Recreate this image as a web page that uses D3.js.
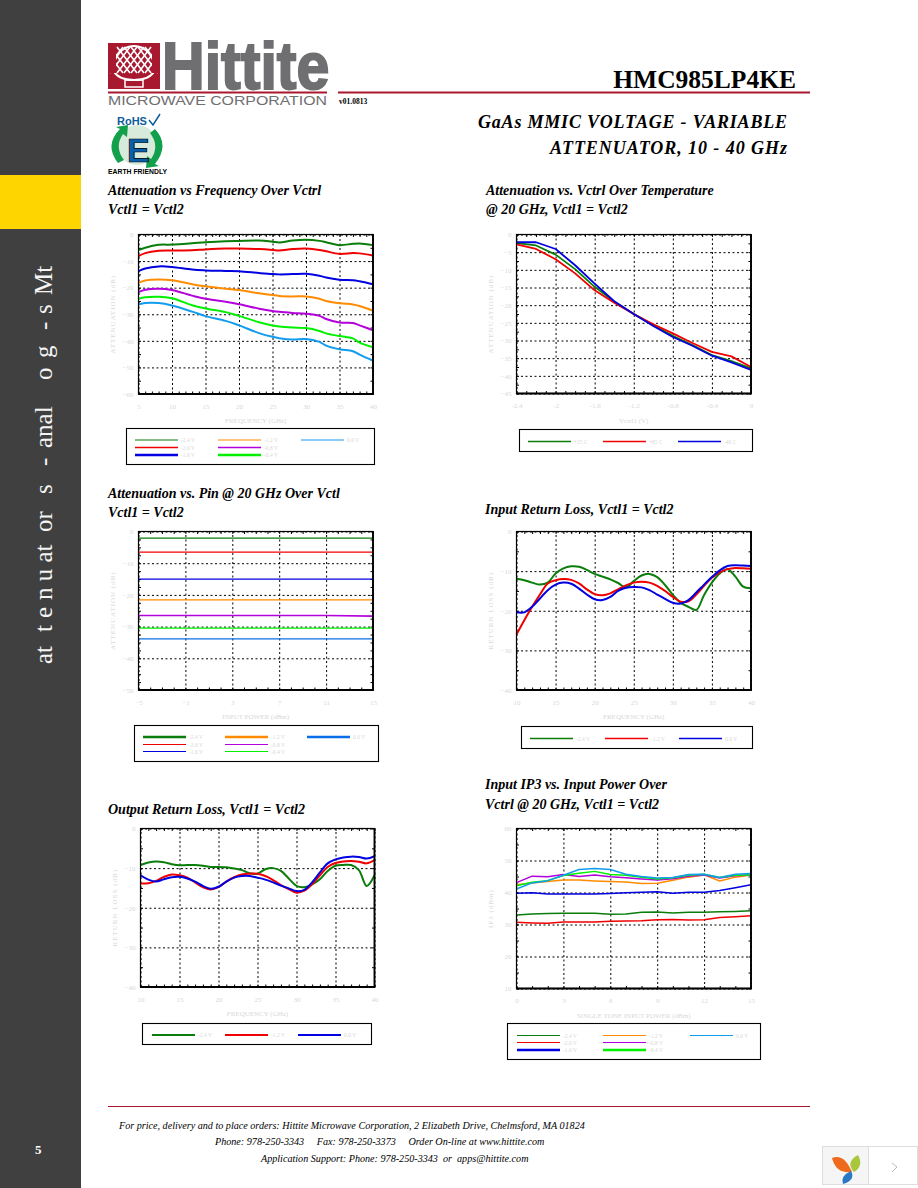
<!DOCTYPE html>
<html>
<head>
<meta charset="utf-8">
<script src="https://cdn.jsdelivr.net/npm/d3@7"></script>
<style>
  html, body { margin: 0; padding: 0; background: #fff; }
  svg { display: block; }
  text { font-family: "Liberation Serif", serif; }
</style>
</head>
<body>
<svg id="page" width="918" height="1188"></svg>
<script>
// values

var ctrlLabels = ["-2.4 V", "-2.0 V", "-1.6 V", "-1.2 V", "-0.8 V", "-0.4 V", "0.0 V"];
var tempLabels = ["+25 C", "+85 C", "-40 C"];
var rlLabels = ["-2.4 V", "-1.2 V", "0.0 V"];

// Attenuation vs Frequency
var attFreq = [5, 6, 8, 10, 13, 15, 18, 20, 23, 25, 26, 28, 30, 32, 33, 35, 37, 38, 40];
var attFreqM24 = [-5.9, -5.0, -3.9, -3.8, -3.3, -2.9, -2.5, -2.4, -2.3, -2.7, -3, -2.3, -2, -2.4, -2.9, -4, -3.5, -3.4, -4];
var attFreqM20 = [-8.1, -7, -6.1, -6, -5.9, -5.6, -5.3, -5.3, -5.5, -5.8, -6, -5.5, -5.3, -5.8, -6.3, -7.3, -7, -7.1, -7.9];
var attFreqM16 = [-13.8, -12.8, -12, -12.2, -13.2, -13.5, -13.7, -13.8, -14.5, -14.9, -15, -14.9, -14.8, -15.5, -16.2, -17, -17.2, -17.6, -18.7];
var attFreqM12 = [-18.2, -17.3, -16.9, -17.2, -18.7, -19.5, -20.4, -20.9, -22.1, -22.8, -23.1, -23.3, -23.3, -24.2, -25, -25.9, -26.3, -26.9, -28.7];
var attFreqM08 = [-21.7, -20.8, -20.4, -20.9, -23, -24.2, -25.3, -26.2, -27.9, -28.8, -29.1, -29.5, -29.8, -30.6, -31.8, -33.1, -33.3, -34.2, -36];
var attFreqM04 = [-24.2, -23.6, -23.4, -24, -26.6, -27.8, -29.2, -30.6, -33, -34.2, -34.6, -35, -35.2, -36.3, -37.2, -38.2, -39.1, -40.7, -42.4];
var attFreqM00 = [-26.3, -25.8, -25.8, -26.7, -29, -30.7, -32.5, -34.2, -37.1, -38.5, -39, -39.5, -39.3, -40.4, -41.8, -43.2, -43.9, -45.2, -47.5];

// Attenuation vs Vctrl over temperature
var vctrl = [-2.4, -2.2, -2, -1.8, -1.6, -1.4, -1.2, -1, -0.8, -0.6, -0.4, -0.2, 0];
var attTemp25 = [-2.45, -3.1, -5.7, -9.8, -14.8, -19, -22.5, -25.7, -28.7, -31.3, -34.1, -35.8, -37.9];
var attTemp85 = [-2.8, -4.1, -7, -11, -15.8, -19.3, -22.5, -25.4, -28, -30.7, -33.2, -34.5, -37.5];
var attTempM40 = [-2.2, -2.2, -4.1, -8.7, -13.9, -18.9, -22.5, -25.9, -29, -31.5, -34.3, -36.2, -38.3];

// Attenuation vs Pin
var pin = [-5, -1, 3, 7, 11, 15];
var attPinM24 = [-2.1, -2.1, -2.1, -2.1, -2.1, -2.1];
var attPinM20 = [-6.5, -6.5, -6.5, -6.5, -6.5, -6.5];
var attPinM16 = [-15, -15, -15, -15, -15, -15];
var attPinM12 = [-21.6, -21.6, -21.6, -21.6, -21.6, -21.6];
var attPinM08 = [-26.5, -26.5, -26.5, -26.5, -26.5, -26.7];
var attPinM04 = [-30.5, -30.5, -30.5, -30.5, -30.5, -30.5];
var attPinM00 = [-33.9, -33.9, -33.9, -33.9, -33.9, -33.9];

// Return loss, both ports share the frequency column
var rlFreq = d3.range(10, 41);
var irlM24 = [-11.9, -12.3, -12.9, -13.4, -12.9, -10.6, -9.3, -8.8, -8.9, -9.7, -10.7, -11.4, -12.1, -13, -14.1, -12.5, -11.1, -10.7, -11.5, -13.5, -16, -18, -19, -19.8, -16, -12.9, -10.6, -9.5, -11.4, -13.9, -14.3];
var irlM12 = [-26, -22.4, -19, -15.9, -13.1, -12.3, -12, -12.2, -13.1, -14.6, -15.8, -16.1, -15.6, -14.6, -13.6, -12.9, -12.7, -12.9, -13.7, -15, -16.5, -17.7, -17.6, -15.9, -13.7, -11.7, -10.3, -9.5, -9.2, -9.3, -9.4];
var irlM00 = [-20.4, -20.4, -19, -16.9, -14.8, -13.4, -12.9, -13.2, -14.4, -15.9, -17.1, -17.3, -16.5, -15, -14.2, -14, -14.1, -14.8, -15.9, -17, -18, -18.2, -17.3, -15.4, -13.4, -11.5, -9.8, -8.7, -8.5, -8.6, -8.7];
var orlM24 = [-9.2, -8.6, -8.3, -8.5, -9, -9.3, -9.2, -9.2, -9.4, -9.7, -9.7, -9.8, -10.1, -10.5, -11.3, -11.4, -10.3, -10, -10.7, -12.6, -14.5, -14.8, -14.1, -12.8, -10.7, -9.4, -9.2, -9.2, -10.5, -14.5, -11.8];
var orlM12 = [-13.9, -13.8, -13.2, -12.2, -11.6, -11.8, -12.4, -13.6, -14.8, -15.4, -14.8, -13.4, -12.3, -11.6, -11.4, -11.4, -12, -13, -14.3, -15.3, -16.2, -15.7, -14.1, -11.8, -9.7, -8.7, -8.3, -8.2, -8.4, -8.8, -8];
var orlM00 = [-11.8, -12.9, -13.4, -12.8, -12.3, -12.2, -12.6, -13.4, -14.5, -15.2, -14.7, -13.4, -12.4, -12, -12, -12.4, -12.9, -13.6, -14.4, -15.1, -15.8, -15.5, -13.6, -11.1, -8.8, -7.8, -7.3, -7.1, -7.2, -7.6, -7];

// Input IP3
var ipPower = d3.range(0, 16);
var ip3M24 = [33, 33.3, 33.4, 33.5, 33.5, 33.5, 33.2, 33.3, 33.8, 33.9, 33.6, 33.8, 33.8, 34, 34.1, 34.3];
var ip3M20 = [30.7, 30.5, 30.4, 30.8, 30.8, 30.8, 31, 31.1, 31.2, 31.5, 31.6, 31.4, 31.5, 32.2, 32.4, 32.7];
var ip3M16 = [39.8, 39.9, 39.5, 39.5, 39.5, 39.5, 39.7, 39.9, 40.1, 40.2, 39.8, 40.1, 40.1, 40.6, 41.5, 42.4];
var ip3M12 = [42.4, 43, 43.4, 43.9, 43.9, 43.6, 43.4, 43.3, 42.8, 42.9, 43.8, 44.8, 45.5, 43.6, 44.8, 45.5];
var ip3M08 = [43.1, 45.1, 44.9, 45.6, 45, 45.5, 44.9, 44.6, 44.2, 43.9, 44.3, 45.1, 45.5, 44.5, 45.2, 45.5];
var ip3M04 = [42.1, 43.2, 43.7, 45.3, 46, 46.6, 45.6, 45.4, 44.8, 44.2, 44.6, 45.4, 45.7, 44.7, 45.4, 45.5];
var ip3M00 = [41.1, 43, 43.7, 45.4, 47.2, 47.5, 47.2, 45.7, 45, 44.5, 44.7, 45.6, 45.7, 44.7, 45.7, 45.9];

var DKGREEN = "#0a7d0a", RED = "#f00000", BLUE = "#0000e0", ORANGE = "#ff8c00",
    PURPLE = "#b400dc", LIME = "#00f000", SKY = "#129ced", AZURE = "#0a6eea";
var FAINT = "#d8d8d8";
var CRIMSON = "#a8182f";

var svg = d3.select("#page");

// --------- page furniture ---------
svg.append("rect").attr("width", 81).attr("height", 1188).attr("fill", "#404040");
svg.append("rect").attr("y", 175).attr("width", 81).attr("height", 54).attr("fill", "#ffd500");

// side text is spaced in odd clumps on the original, so place each clump
var sideBits = [["at", 664], ["t", 632], ["e", 618], ["n u at", 600], ["or", 532], ["s", 494], ["-", 466], ["anal", 448], ["o", 380], ["g", 358], ["-", 330], ["s", 314], ["Mt", 295]];
sideBits.forEach(function(b) {
    svg.append("text")
      .attr("transform", "translate(52," + b[1] + ") rotate(-90)")
      .attr("fill", "#f4f4f4").style("font-size", "25px")
      .text(b[0]);
});
svg.append("text").attr("x", 35).attr("y", 1154).attr("fill", "#fff")
    .style("font-size", "13px").style("font-weight", "bold").text("5");

// logo
var logo = svg.append("g");
logo.append("rect").attr("x", 108).attr("y", 43).attr("width", 52).attr("height", 46).attr("fill", CRIMSON);
logo.append("path").attr("d", "M113,70 A21,24 0 1 1 155,70 Q150,80 134,80 Q118,80 113,70Z")
    .attr("fill", "none").attr("stroke", "#fff").attr("stroke-width", 2);
d3.range(-3, 4).forEach(function(i) {
    logo.append("line").attr("x1", 134 + i * 7 - 10).attr("y1", 47).attr("x2", 134 + i * 7 + 10).attr("y2", 73)
        .attr("stroke", "#fff").attr("stroke-width", 1.6);
    logo.append("line").attr("x1", 134 + i * 7 + 10).attr("y1", 47).attr("x2", 134 + i * 7 - 10).attr("y2", 73)
        .attr("stroke", "#fff").attr("stroke-width", 1.6);
});
logo.append("rect").attr("x", 108).attr("y", 43).attr("width", 8).attr("height", 30).attr("fill", CRIMSON);
logo.append("rect").attr("x", 152).attr("y", 43).attr("width", 8).attr("height", 30).attr("fill", CRIMSON);
logo.append("rect").attr("x", 125).attr("y", 80).attr("width", 18).attr("height", 7).attr("fill", "none").attr("stroke", "#fff").attr("stroke-width", 1.5);
// squeezed with a transform, not textLength, so the text box really ends at the logo edge
logo.append("text").attr("transform", "translate(162,89) scale(0.895,1)")
    .attr("fill", "#6f6e71").attr("stroke", "#6f6e71").attr("stroke-width", 2)
    .style("font-family", "'Liberation Sans'").style("font-weight", "bold").style("font-size", "66px")
    .text("Hittite");
logo.append("text").attr("x", 108).attr("y", 105)
    .attr("textLength", 219).attr("lengthAdjust", "spacingAndGlyphs")
    .attr("fill", "#6f6e71")
    .style("font-family", "'Liberation Sans'").style("font-size", "13.5px")
    .text("MICROWAVE CORPORATION");
svg.append("line").attr("x1", 108).attr("x2", 327).attr("y1", 92.5).attr("y2", 92.5).attr("stroke", CRIMSON).attr("stroke-width", 2);
svg.append("line").attr("x1", 338).attr("x2", 810).attr("y1", 92.5).attr("y2", 92.5).attr("stroke", CRIMSON).attr("stroke-width", 2);
svg.append("text").attr("x", 339).attr("y", 104).style("font-size", "7.5px").style("font-weight", "bold").text("v01.0813");

// RoHS badge
var rohs = svg.append("g");
rohs.append("text").attr("x", 117).attr("y", 125).attr("fill", "#0d5c9c")
    .style("font-family", "'Liberation Sans'").style("font-weight", "bold").style("font-size", "11px").text("RoHS");
rohs.append("path").attr("d", "M149,120 L153,125 L160,114").attr("fill", "none").attr("stroke", "#0d5c9c").attr("stroke-width", 1.5);
rohs.append("circle").attr("cx", 137).attr("cy", 145).attr("r", 20).attr("fill", "#d8eadb");
rohs.append("path").attr("d", "M118,163 Q104,145 120,129 L116,127 L128,125 L127,137 L123,134 Q114,147 124,160Z").attr("fill", "#12a04c");
rohs.append("path").attr("d", "M155,129 Q170,145 155,164 L159,166 L146,168 L147,156 L151,159 Q160,146 150,133Z").attr("fill", "#12a04c");
rohs.append("text").attr("x", 127).attr("y", 162).attr("fill", "#0a5fa8").attr("stroke", "#000").attr("stroke-width", 0.7)
    .style("font-family", "'Liberation Sans'").style("font-weight", "bold").style("font-size", "34px").text("E");
rohs.append("text").attr("x", 108).attr("y", 174).attr("textLength", 59).attr("lengthAdjust", "spacingAndGlyphs")
    .style("font-family", "'Liberation Sans'").style("font-weight", "bold").style("font-size", "6.5px").text("EARTH FRIENDLY");

svg.append("text").attr("x", 796).attr("y", 88).attr("text-anchor", "end")
    .style("font-size", "25.5px").style("font-weight", "bold").text("HMC985LP4KE");
svg.append("text").attr("x", 478).attr("y", 128).attr("textLength", 309)
    .style("font-size", "18px").style("font-weight", "bold").style("font-style", "italic").text("GaAs MMIC VOLTAGE - VARIABLE");
svg.append("text").attr("x", 550).attr("y", 154).attr("textLength", 237)
    .style("font-size", "18px").style("font-weight", "bold").style("font-style", "italic").text("ATTENUATOR, 10 - 40 GHz");

// footer
svg.append("line").attr("x1", 108).attr("x2", 810).attr("y1", 1106.5).attr("y2", 1106.5).attr("stroke", CRIMSON).attr("stroke-width", 1.2);
[["For price, delivery and to place orders: Hittite Microwave Corporation, 2 Elizabeth Drive, Chelmsford, MA 01824", 119, 1129],
 ["Phone: 978-250-3343     Fax: 978-250-3373     Order On-line at www.hittite.com", 215, 1145],
 ["Application Support: Phone: 978-250-3343  or  apps@hittite.com", 261, 1162]].forEach(function(f) {
    svg.append("text").attr("x", f[1]).attr("y", f[2])
       .style("font-size", "10.15px").style("font-style", "italic").style("white-space", "pre").text(f[0]);
});

// viewer widget in the corner
var widget = svg.append("g");
widget.append("rect").attr("x", 822.5).attr("y", 1146.5).attr("width", 46).attr("height", 38).attr("fill", "#f5f5f5").attr("stroke", "#ddd");
widget.append("rect").attr("x", 868.5).attr("y", 1146.5).attr("width", 49).attr("height", 38).attr("fill", "#fff").attr("stroke", "#ddd");
widget.append("path").attr("d", "M832,1158 Q844,1153 852,1172 Q836,1174 832,1158Z").attr("fill", "#ee6a1c");
widget.append("path").attr("d", "M854,1172 Q845,1162 858,1155 Q864,1166 854,1172Z").attr("fill", "#a9c63c");
widget.append("path").attr("d", "M851,1171 Q856,1180 843,1184 Q840,1176 851,1171Z").attr("fill", "#2b78c5");
widget.append("path").attr("d", "M892,1163 L897,1167 L892,1172").attr("fill", "none").attr("stroke", "#bbb").attr("stroke-width", 1);

// --------- the six plots ---------
var addTitle = function(lines, x, y, gap) {
    lines.forEach(function(t, i) {
        svg.append("text").attr("x", x).attr("y", y + i * (gap || 19))
           .style("font-size", "14px").style("font-weight", "bold").style("font-style", "italic").text(t);
    });
};

var drawPlot = function(c) {
    var x = d3.scaleLinear().domain(c.xDomain).range([c.left, c.right]);
    var y = d3.scaleLinear().domain(c.yDomain).range([c.top, c.bottom]);
    var g = svg.append("g");
    var w = c.right - c.left, h = c.bottom - c.top;

    // grid comes from the major axes, ticks from the minor ones
    var gx = g.append("g").attr("transform", "translate(0," + c.bottom + ")")
        .call(d3.axisBottom(x).tickValues(c.xTicks).tickSize(-h).tickPadding(10).tickFormat(c.xFormat || d3.format("d")));
    var gy = g.append("g").attr("transform", "translate(" + c.left + ",0)")
        .call(d3.axisLeft(y).tickValues(c.yTicks).tickSize(-w).tickPadding(5).tickFormat(d3.format("d")));
    [gx, gy].forEach(function(a) {
        a.select(".domain").remove();
        a.selectAll("line").attr("stroke", "#000").attr("stroke-width", 1).attr("stroke-dasharray", "2 2.5");
        a.selectAll("text").attr("fill", FAINT).style("font-family", "'Liberation Serif'").style("font-size", "7px");
    });

    [[d3.axisBottom(x), c.top, c.xMinor, 0], [d3.axisTop(x), c.bottom, c.xMinor, 0],
     [d3.axisRight(y), c.left, c.yMinor, 1], [d3.axisLeft(y), c.right, c.yMinor, 1]].forEach(function(m) {
        var a = g.append("g")
            .attr("transform", m[3] ? "translate(" + m[1] + ",0)" : "translate(0," + m[1] + ")")
            .call(m[0].tickValues(m[2]).tickSize(2.5).tickFormat(""));
        a.select(".domain").remove();
        a.selectAll("line").attr("stroke", "#000");
    });

    var line = d3.line()
        .x(function(d) { return x(d[0]); })
        .y(function(d) { return y(d[1]); })
        .curve(c.curve);
    c.series.forEach(function(s, i) {
        g.append("path")
          .datum(d3.zip(c.xs, s.values))
          .attr("fill", "none").attr("stroke", s.color)
          .attr("stroke-width", c.lineWidths ? c.lineWidths[i] : c.lineWidth)
          .attr("stroke-linejoin", "round")
          .attr("d", line);
    });

    // frame is heavier on the bottom and right
    g.append("rect").attr("x", c.left).attr("y", c.top).attr("width", w).attr("height", h)
      .attr("fill", "none").attr("stroke", "#000").attr("stroke-width", 1.2);
    g.append("path").attr("d", "M" + c.left + "," + c.bottom + "H" + c.right + "V" + c.top)
      .attr("fill", "none").attr("stroke", "#000").attr("stroke-width", 1.8);

    g.append("text").attr("x", (c.left + c.right) / 2).attr("y", c.bottom + 29).attr("text-anchor", "middle")
      .attr("fill", FAINT).style("font-size", "7px").text(c.xLabel);
    g.append("text").attr("transform", "translate(" + (c.left - 24) + "," + (c.top + h / 2) + ") rotate(-90)")
      .attr("text-anchor", "middle").attr("fill", FAINT).style("font-size", "7px").style("letter-spacing", "1px").text(c.yLabel);

    // legend
    var lg = c.legend;
    g.append("rect").attr("x", lg.x).attr("y", lg.y).attr("width", lg.w).attr("height", lg.h)
      .attr("fill", "#fff").attr("stroke", "#000").attr("stroke-width", 1.1);
    c.series.forEach(function(s, i) {
        var col = Math.floor(i / lg.rows), row = i % lg.rows;
        var yy = lg.rowY[row], xx = lg.colX[col];
        g.append("line").attr("x1", xx).attr("x2", xx + 43).attr("y1", yy).attr("y2", yy)
          .attr("stroke", s.color).attr("stroke-width", lg.widths[i]);
        g.append("text").attr("x", xx + 46).attr("y", yy + 2).attr("fill", FAINT)
          .style("font-size", "5.5px").text(s.label);
    });
};

var seven = function(colors, arrays) {
    return arrays.map(function(v, i) { return { label: ctrlLabels[i], color: colors[i], values: v }; });
};
var three = function(labels, arrays) {
    return arrays.map(function(v, i) { return { label: labels[i], color: [DKGREEN, RED, BLUE][i], values: v }; });
};

addTitle(["Attenuation vs Frequency Over Vctrl", "Vctl1 = Vctl2"], 108, 195);
drawPlot({
    left: 138.5, right: 373, top: 234.5, bottom: 394, lineWidth: 2, curve: d3.curveCatmullRom,
    xDomain: [5, 40], yDomain: [0, -60],
    xTicks: d3.range(5, 41, 5), yTicks: d3.range(0, -61, -10),
    xMinor: d3.range(5, 41, 1), yMinor: d3.range(0, -61, -5),
    xLabel: "FREQUENCY (GHz)", yLabel: "ATTENUATION (dB)", xs: attFreq,
    series: seven([DKGREEN, RED, BLUE, ORANGE, PURPLE, LIME, SKY],
        [attFreqM24, attFreqM20, attFreqM16, attFreqM12, attFreqM08, attFreqM04, attFreqM00]),
    legend: { x: 126.5, y: 428.5, w: 248, h: 36, rows: 3, rowY: [440, 447.5, 455], colX: [135, 218, 301],
              widths: [1.2, 1.3, 2.6, 1.2, 1.3, 2.6, 1.2] }
});

addTitle(["Attenuation vs. Vctrl Over Temperature", "@ 20 GHz, Vctl1 = Vctl2"], 486, 195);
drawPlot({
    left: 516.5, right: 751, top: 234.5, bottom: 393.5, lineWidth: 1.8, curve: d3.curveLinear,
    xDomain: [-2.4, 0], yDomain: [0, -45],
    xTicks: d3.range(-2.4, 0.01, 0.4).map(function(v) { return Math.round(v * 10) / 10; }), yTicks: d3.range(0, -46, -5),
    xFormat: function(d) { return d; },
    xMinor: d3.range(-2.4, 0.01, 0.1), yMinor: d3.range(0, -46, -2.5),
    xLabel: "Vctrl1 (V)", yLabel: "ATTENUATION (dB)", xs: vctrl,
    series: three(tempLabels, [attTemp25, attTemp85, attTempM40]),
    legend: { x: 519.5, y: 429.5, w: 233, h: 22, rows: 1, rowY: [441.5], colX: [528, 603, 678], widths: [1.3, 1.3, 1.3] }
});

addTitle(["Attenuation vs. Pin @ 20 GHz Over Vctl", "Vctl1 = Vctl2"], 108, 498);
drawPlot({
    left: 138.5, right: 373, top: 531.5, bottom: 690, curve: d3.curveLinear,
    lineWidths: [1.2, 1.2, 1.2, 1.2, 1.7, 1.3, 1.2],
    xDomain: [-5, 15], yDomain: [0, -50],
    xTicks: pin, yTicks: d3.range(0, -51, -10),
    xMinor: d3.range(-5, 16, 1), yMinor: d3.range(0, -51, -2.5),
    xLabel: "INPUT POWER (dBm)", yLabel: "ATTENUATION (dB)", xs: pin,
    series: seven([DKGREEN, RED, BLUE, ORANGE, PURPLE, LIME, AZURE],
        [attPinM24, attPinM20, attPinM16, attPinM12, attPinM08, attPinM04, attPinM00]),
    legend: { x: 134.5, y: 725.5, w: 244, h: 36, rows: 3, rowY: [737, 744.5, 751.5], colX: [143, 225, 307],
              widths: [2.4, 1.2, 1.2, 2.4, 1.2, 1.2, 2.4] }
});

addTitle(["Input Return Loss, Vctl1 = Vctl2"], 485, 514);
drawPlot({
    left: 516.5, right: 751, top: 531.5, bottom: 690, lineWidth: 2, curve: d3.curveCatmullRom,
    xDomain: [10, 40], yDomain: [0, -40],
    xTicks: d3.range(10, 41, 5), yTicks: d3.range(0, -41, -10),
    xMinor: d3.range(10, 41, 1), yMinor: d3.range(0, -41, -5),
    xLabel: "FREQUENCY (GHz)", yLabel: "RETURN LOSS (dB)", xs: rlFreq,
    series: three(rlLabels, [irlM24, irlM12, irlM00]),
    legend: { x: 521.5, y: 726.5, w: 231, h: 22, rows: 1, rowY: [738.5], colX: [530, 605, 679], widths: [1.3, 1.3, 1.3] }
});

addTitle(["Output Return Loss, Vctl1 = Vctl2"], 108, 814);
drawPlot({
    left: 140.5, right: 374.5, top: 828.5, bottom: 987, lineWidth: 2, curve: d3.curveCatmullRom,
    xDomain: [10, 40], yDomain: [0, -40],
    xTicks: d3.range(10, 41, 5), yTicks: d3.range(0, -41, -10),
    xMinor: d3.range(10, 41, 1), yMinor: d3.range(0, -41, -5),
    xLabel: "FREQUENCY (GHz)", yLabel: "RETURN LOSS (dB)", xs: rlFreq,
    series: three(rlLabels, [orlM24, orlM12, orlM00]),
    legend: { x: 142.5, y: 1023.5, w: 229, h: 21, rows: 1, rowY: [1035], colX: [152, 225, 298], widths: [2.2, 2.2, 2.2] }
});

addTitle(["Input IP3 vs. Input Power Over", "Vctrl @ 20 GHz, Vctl1 = Vctl2"], 485, 789, 20);
drawPlot({
    left: 516.5, right: 751, top: 828.5, bottom: 988.5, lineWidth: 1.5, curve: d3.curveLinear,
    xDomain: [0, 15], yDomain: [60, 10],
    xTicks: d3.range(0, 16, 3), yTicks: d3.range(60, 9, -10),
    xMinor: d3.range(0, 16, 1), yMinor: d3.range(60, 9, -5),
    xLabel: "SINGLE TONE INPUT POWER (dBm)", yLabel: "IP3 (dBm)", xs: ipPower,
    series: seven([DKGREEN, RED, BLUE, ORANGE, PURPLE, LIME, SKY],
        [ip3M24, ip3M20, ip3M16, ip3M12, ip3M08, ip3M04, ip3M00]),
    legend: { x: 507.5, y: 1023.5, w: 253, h: 36, rows: 3, rowY: [1035.5, 1042.5, 1050], colX: [517, 603, 690],
              widths: [1.2, 1.2, 2.4, 1.2, 1.2, 2.4, 1.2] }
});
</script>
</body>
</html>
